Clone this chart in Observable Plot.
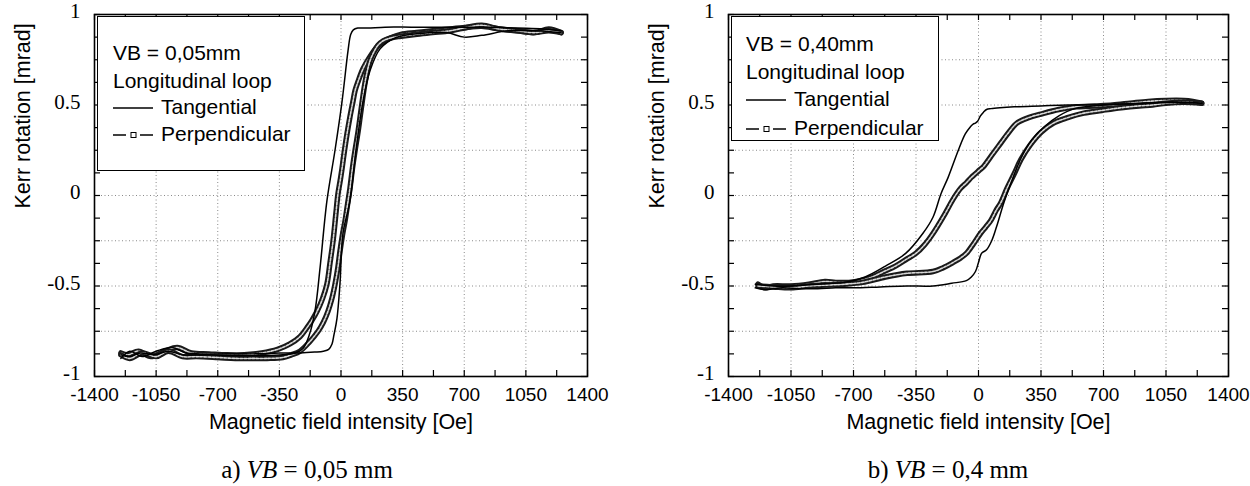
<!DOCTYPE html>
<html>
<head>
<meta charset="utf-8">
<script src="https://cdn.jsdelivr.net/npm/d3@7"></script>
<script src="https://cdn.jsdelivr.net/npm/@observablehq/plot@0.6"></script>
<style>
  html, body { margin: 0; padding: 0; background: #fff; }
  #wrap { position: relative; width: 1250px; height: 486px; font-family: "Liberation Sans", Arial, sans-serif; }
  .panel { position: absolute; top: 0; }
  .legend { position: absolute; background: #fff; border: 1px solid #000; box-sizing: border-box; font-family: "Liberation Sans", Arial, sans-serif; font-size: 21px; color: #000; }
  .legend div { position: absolute; white-space: nowrap; line-height: 1; }
  .caption { position: absolute; font-family: "Liberation Serif", "Times New Roman", serif; font-size: 25px; white-space: nowrap; transform: translate(-50%, -50%); }
</style>
</head>
<body>
<div id="wrap"></div>
<script>
// ---------- axes / labels ----------
const xTicks = [-1400, -1050, -700, -350, 0, 350, 700, 1050, 1400];
const xTickLabels = ["-1400", "-1050", "-700", "-350", "0", "350", "700", "1050", "1400"];
const xMinorTicks = [-1400, -1225, -1050, -875, -700, -525, -350, -175, 0, 175, 350, 525, 700, 875, 1050, 1225, 1400];
const xGrid = [-1050, -700, -350, 0, 350, 700, 1050];
const yTicks = [-1, -0.5, 0, 0.5, 1];
const yTickLabels = ["-1", "-0.5", "0", "0.5", "1"];
const yMinorTicks = [-1, -0.875, -0.75, -0.625, -0.5, -0.375, -0.25, -0.125, 0, 0.125, 0.25, 0.375, 0.5, 0.625, 0.75, 0.875, 1];
const yGrid = [-0.75, -0.5, -0.25, 0, 0.25, 0.5, 0.75];
const xTitle = "Magnetic field intensity [Oe]";
const yTitle = "Kerr rotation [mrad]";
const seriesNames = ["Tangential", "Perpendicular"];
const legendHeadA = ["VB = 0,05mm", "Longitudinal loop"];
const legendHeadB = ["VB = 0,40mm", "Longitudinal loop"];
const captionA = ["a) ", "VB", " = 0,05 mm"];
const captionB = ["b) ", "VB", " = 0,4 mm"];

// ---------- panel a) VB = 0,05 mm ----------
const aTanDownH = [1250, 1150, 1000, 850, 700, 550, 400, 250, 150, 95, 70, 55, 40, 6, -34, -80, -119, -148, -180, -216, -260, -330, -450, -600, -750, -900, -980, -1060, -1140, -1200, -1250];
const aTanDownK = [0.91, 0.92, 0.925, 0.93, 0.93, 0.93, 0.93, 0.93, 0.925, 0.925, 0.915, 0.89, 0.80, 0.52, 0.25, -0.03, -0.40, -0.64, -0.77, -0.845, -0.87, -0.88, -0.885, -0.885, -0.88, -0.88, -0.86, -0.88, -0.87, -0.89, -0.88];
const aTanUpH = [-1250, -1200, -1130, -1050, -960, -880, -800, -650, -500, -350, -233, -150, -100, -70, -51, -40, -23, -6, 11, 51, 85, 125, 165, 222, 307, 450, 600, 700, 800, 950, 1100, 1250];
const aTanUpK = [-0.90, -0.86, -0.89, -0.86, -0.84, -0.87, -0.875, -0.875, -0.875, -0.87, -0.87, -0.865, -0.86, -0.85, -0.82, -0.77, -0.68, -0.49, -0.21, -0.03, 0.25, 0.52, 0.69, 0.81, 0.87, 0.895, 0.90, 0.875, 0.885, 0.91, 0.91, 0.90];
const aPerpDownH = [1250, 1180, 1100, 1000, 900, 800, 720, 620, 520, 430, 340, 280, 240, 204, 160, 125, 97, 80, 68, 50, 34, 20, 6, -5, -17, -30, -45, -62, -80, -105, -136, -165, -193, -233, -290, -360, -450, -550, -650, -750, -850, -930, -1000, -1080, -1150, -1210, -1250];
const aPerpDownK = [0.90, 0.92, 0.90, 0.91, 0.92, 0.935, 0.93, 0.92, 0.91, 0.90, 0.89, 0.87, 0.85, 0.82, 0.76, 0.70, 0.63, 0.58, 0.52, 0.43, 0.34, 0.25, 0.15, 0.08, 0.01, -0.11, -0.25, -0.37, -0.49, -0.57, -0.64, -0.69, -0.73, -0.78, -0.82, -0.85, -0.87, -0.88, -0.88, -0.875, -0.87, -0.84, -0.86, -0.89, -0.86, -0.88, -0.87];
const aPerpUpH = [-1250, -1200, -1130, -1050, -980, -900, -820, -700, -600, -500, -420, -330, -280, -233, -180, -130, -100, -74, -52, -34, -18, -6, 8, 23, 37, 51, 65, 80, 95, 108, 122, 136, 150, 165, 185, 210, 240, 280, 340, 420, 520, 620, 720, 800, 900, 1000, 1100, 1180, 1250];
const aPerpUpK = [-0.88, -0.90, -0.87, -0.89, -0.86, -0.89, -0.89, -0.895, -0.90, -0.90, -0.90, -0.895, -0.88, -0.86, -0.81, -0.75, -0.70, -0.64, -0.57, -0.49, -0.40, -0.31, -0.22, -0.14, -0.05, 0.04, 0.15, 0.25, 0.34, 0.43, 0.53, 0.62, 0.69, 0.745, 0.79, 0.83, 0.855, 0.87, 0.88, 0.89, 0.90, 0.91, 0.93, 0.94, 0.92, 0.91, 0.90, 0.91, 0.90];

// ---------- panel b) VB = 0,4 mm ----------
const bTanDownH = [1250, 1100, 950, 800, 650, 500, 350, 200, 120, 70, 45, 28, 11, -5, -17, -30, -45, -74, -113, -170, -210, -255, -312, -408, -521, -635, -750, -900, -1050, -1150, -1250];
const bTanDownK = [0.51, 0.515, 0.51, 0.505, 0.50, 0.50, 0.495, 0.49, 0.485, 0.48, 0.475, 0.46, 0.44, 0.41, 0.40, 0.395, 0.38, 0.34, 0.25, 0.10, 0.01, -0.12, -0.21, -0.32, -0.39, -0.45, -0.48, -0.49, -0.50, -0.50, -0.49];
const bTanUpH = [-1250, -1200, -1100, -1000, -900, -800, -700, -550, -400, -255, -150, -68, -40, -17, 0, 17, 45, 74, 102, 142, 190, 240, 300, 368, 450, 538, 700, 900, 1100, 1250];
const bTanUpK = [-0.51, -0.52, -0.51, -0.515, -0.515, -0.51, -0.51, -0.505, -0.50, -0.50, -0.485, -0.47, -0.45, -0.42, -0.37, -0.32, -0.30, -0.25, -0.17, -0.04, 0.09, 0.21, 0.31, 0.38, 0.44, 0.48, 0.50, 0.51, 0.515, 0.51];
const bPerpDownH = [1250, 1200, 1150, 1050, 950, 850, 750, 650, 550, 450, 350, 280, 215, 170, 125, 80, 28, 5, -17, -40, -68, -100, -142, -187, -255, -300, -351, -400, -465, -530, -595, -660, -725, -800, -860, -950, -1050, -1150, -1200, -1235];
const bPerpDownK = [0.51, 0.52, 0.525, 0.525, 0.52, 0.51, 0.50, 0.495, 0.49, 0.475, 0.45, 0.43, 0.40, 0.35, 0.29, 0.23, 0.16, 0.14, 0.12, 0.10, 0.07, 0.04, -0.02, -0.10, -0.21, -0.27, -0.32, -0.35, -0.39, -0.42, -0.45, -0.47, -0.48, -0.48, -0.475, -0.49, -0.50, -0.50, -0.51, -0.49];
const bPerpUpH = [-1235, -1150, -1050, -950, -850, -750, -650, -521, -400, -255, -200, -142, -100, -68, -30, 11, 40, 68, 100, 125, 160, 200, 238, 290, 351, 420, 499, 590, 691, 800, 900, 975, 1050, 1150, 1250];
const bPerpUpK = [-0.50, -0.505, -0.51, -0.50, -0.495, -0.49, -0.48, -0.45, -0.43, -0.42, -0.40, -0.37, -0.345, -0.32, -0.27, -0.21, -0.175, -0.14, -0.08, -0.04, 0.04, 0.12, 0.20, 0.28, 0.35, 0.40, 0.43, 0.455, 0.47, 0.485, 0.495, 0.50, 0.51, 0.515, 0.51];

const rows = (H, K) => H.map((h, i) => ({h, k: K[i]}));
const serif = "'Liberation Serif', 'Times New Roman', serif";

function panel({tan, perp, width, marginLeft, marginRight}) {
  const height = 445, marginTop = 14, marginBottom = 69;
  const fw = width - marginLeft - marginRight;
  const fh = height - marginTop - marginBottom;
  const tick = 6;
  const marks = [
    Plot.ruleX(xGrid, {stroke: "#8a8a8a", strokeWidth: 1, strokeDasharray: "1,2.5"}),
    Plot.ruleY(yGrid, {stroke: "#8a8a8a", strokeWidth: 1, strokeDasharray: "1,2.5"})
  ];
  for (const [H, K] of perp) {
    const d = rows(H, K);
    marks.push(Plot.line(d, {x: "h", y: "k", stroke: "#1a1a1a", strokeWidth: 5.5, curve: "catmull-rom"}));
    marks.push(Plot.line(d, {x: "h", y: "k", stroke: "#d8d8d8", strokeWidth: 1.6, strokeDasharray: "2.5,1.5", curve: "catmull-rom"}));
  }
  for (const [H, K] of tan) {
    marks.push(Plot.line(rows(H, K), {x: "h", y: "k", stroke: "#000", strokeWidth: 1.5, curve: "catmull-rom"}));
  }
  marks.push(
    Plot.tickY(yMinorTicks, {stroke: "#000", strokeWidth: 1.2, insetRight: fw - tick}),
    Plot.tickY(yMinorTicks, {stroke: "#000", strokeWidth: 1.2, insetLeft: fw - tick}),
    Plot.tickX(xMinorTicks, {stroke: "#000", strokeWidth: 1.2, insetBottom: fh - tick}),
    Plot.tickX(xMinorTicks, {stroke: "#000", strokeWidth: 1.2, insetTop: fh - tick}),
    Plot.frame({stroke: "#000", strokeWidth: 1.6}),
    Plot.axisX({anchor: "bottom", ticks: xTicks, tickFormat: d => xTickLabels[xTicks.indexOf(d)], tickSize: 0, tickPadding: 11, fontSize: 19, label: null}),
    Plot.text(yTicks, {y: d => d, text: d => yTickLabels[yTicks.indexOf(d)], frameAnchor: "left", dx: -14, dy: -3, textAnchor: "end", fontSize: 21, fontFamily: serif, fill: "#000", ariaLabel: "ytl"}),
    Plot.text([xTitle], {frameAnchor: "bottom", dy: 52, fontSize: 21.5, fill: "#000"}),
    Plot.text([yTitle], {frameAnchor: "left", dx: -71, dy: 13, rotate: -90, fontSize: 21.5, fill: "#000"})
  );
  const svg = Plot.plot({
    width, height, marginTop, marginBottom, marginLeft, marginRight,
    x: {domain: [-1400, 1400], axis: null},
    y: {domain: [-1, 1], axis: null},
    style: {fontFamily: "Liberation Sans, Arial, sans-serif", color: "#000", background: "#fff", overflow: "visible"},
    marks
  });
  svg.querySelectorAll('g[aria-label="ytl"], g[aria-label="ytl"] text').forEach(el => {
    el.style.fontFamily = serif;
  });
  return svg;
}

const wrap = document.getElementById("wrap");
function place(node, left) {
  const d = document.createElement("div");
  d.className = "panel";
  d.style.left = left + "px";
  d.appendChild(node);
  wrap.appendChild(d);
}
place(panel({tan: [[aTanDownH, aTanDownK], [aTanUpH, aTanUpK]], perp: [[aPerpDownH, aPerpDownK], [aPerpUpH, aPerpUpK]], width: 625, marginLeft: 94, marginRight: 38}), 0);
place(panel({tan: [[bTanDownH, bTanDownK], [bTanUpH, bTanUpK]], perp: [[bPerpDownH, bPerpDownK], [bPerpUpH, bPerpUpK]], width: 616, marginLeft: 94, marginRight: 22}), 634);

// ---------- legends ----------
function legend(box, head, lineYs, textX) {
  const lg = document.createElement("div");
  lg.className = "legend";
  Object.assign(lg.style, {left: box[0] + "px", top: box[1] + "px", width: box[2] + "px", height: box[3] + "px"});
  const items = [head[0], head[1], seriesNames[0], seriesNames[1]];
  items.forEach((t, i) => {
    const el = document.createElement("div");
    el.textContent = t;
    el.style.left = (i < 2 ? textX : textX + 48) + "px";
    el.style.top = (lineYs[i] - 11) + "px";
    lg.appendChild(el);
  });
  const ns = "http://www.w3.org/2000/svg";
  const svg = document.createElementNS(ns, "svg");
  svg.setAttribute("width", box[2]); svg.setAttribute("height", box[3]);
  svg.style.position = "absolute"; svg.style.left = "0"; svg.style.top = "0";
  const mk = (tag, attrs) => { const e = document.createElementNS(ns, tag); for (const k in attrs) e.setAttribute(k, attrs[k]); svg.appendChild(e); };
  const y2 = lineYs[2] + 1, y3 = lineYs[3] + 1;
  mk("line", {x1: textX, x2: textX + 40, y1: y2, y2: y2, stroke: "#000", "stroke-width": 1.5});
  mk("line", {x1: textX, x2: textX + 13, y1: y3, y2: y3, stroke: "#000", "stroke-width": 1.5});
  mk("line", {x1: textX + 27, x2: textX + 40, y1: y3, y2: y3, stroke: "#000", "stroke-width": 1.5});
  mk("rect", {x: textX + 18, y: y3 - 2.5, width: 5, height: 5, fill: "#fff", stroke: "#000", "stroke-width": 1});
  lg.appendChild(svg);
  wrap.appendChild(lg);
}
legend([97, 16, 208, 155], legendHeadA, [36, 64, 90, 117], 15);
legend([731, 16, 208, 125], legendHeadB, [27, 55, 82, 111], 14);

// ---------- captions ----------
function caption(parts, cx, cy) {
  const c = document.createElement("div");
  c.className = "caption";
  c.style.left = cx + "px"; c.style.top = cy + "px";
  c.append(parts[0]);
  const i = document.createElement("i"); i.textContent = parts[1]; c.append(i);
  c.append(parts[2]);
  wrap.appendChild(c);
}
caption(captionA, 307, 470);
caption(captionB, 948, 470);
</script>
</body>
</html>
